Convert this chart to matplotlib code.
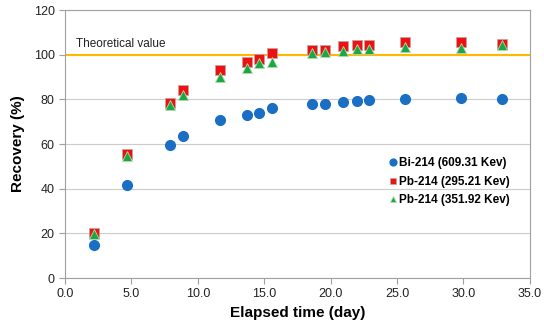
import numpy as np
import matplotlib
matplotlib.use('Agg')
import matplotlib.pyplot as plt

plt.rcParams['font.family'] = ['Liberation Sans', 'DejaVu Sans']

# elapsed time (day)
days = [2.2, 4.7, 7.9, 8.9, 11.7, 13.7, 14.6, 15.6, 18.6, 19.6, 20.9, 22.0, 22.9, 25.6, 29.8, 32.9]

bi214_609 = [14.8, 41.9, 59.8, 63.5, 71.0, 73.1, 74.0, 76.1, 77.8, 78.0, 78.8, 79.3, 79.8, 80.2, 80.8, 80.3]
pb214_295 = [20.1, 55.7, 78.2, 84.2, 93.2, 96.8, 98.0, 101.0, 102.2, 102.2, 104.0, 104.2, 104.2, 105.5, 105.9, 104.7]
pb214_351 = [19.8, 54.8, 77.6, 81.9, 90.2, 94.2, 96.2, 96.9, 101.0, 101.2, 101.7, 102.8, 102.8, 103.5, 103.2, 104.3]

theoretical = 100

fig = plt.figure(figsize=(5.44, 3.26), dpi=100)
ax = fig.add_axes([0.1195, 0.147, 0.8545, 0.822])

ax.axhline(theoretical, color='#ffb800', lw=1.5, zorder=2)
ax.text(0.8, theoretical + 2, 'Theoretical value', fontsize=8.5, color='#222222', va='bottom')

ax.plot(days, bi214_609, 'o', color='#1a6fc4', ms=7, mec='#1a6fc4', ls='none',
        label='Bi-214 (609.31 Kev)', zorder=3)
ax.plot(days, pb214_295, 's', color='#ee1111', ms=6.5, mec='#c8a0a0', mew=0.6, ls='none',
        label='Pb-214 (295.21 Kev)', zorder=4)
ax.plot(days, pb214_351, '^', color='#18a848', ms=7, mec='#b8d8a0', mew=0.6, ls='none',
        label='Pb-214 (351.92 Kev)', zorder=5)

ax.set_xlim(0, 35)
ax.set_ylim(0, 120)
ax.set_xticks(np.arange(0, 35.1, 5))
ax.set_xticklabels(['%.1f' % v for v in np.arange(0, 35.1, 5)])
ax.set_yticks(np.arange(0, 121, 20))
ax.yaxis.grid(True, color='#cccccc', lw=0.8)
ax.set_axisbelow(True)

for s in ax.spines.values():
    s.set_color('#a0a0a0')
    s.set_linewidth(0.8)
ax.tick_params(axis='both', labelsize=9, colors='#222222', length=4, width=0.8)
ax.tick_params(axis='both', color='#a0a0a0')

ax.set_xlabel('Elapsed time (day)', fontsize=11, fontweight='bold', labelpad=4)
ax.set_ylabel('Recovery (%)', fontsize=11, fontweight='bold', labelpad=6)

leg = ax.legend(loc='lower right', bbox_to_anchor=(0.98, 0.228), frameon=False,
                prop={'size': 8.5, 'weight': 'bold'}, handletextpad=0.0,
                handlelength=1.0, labelspacing=0.55, markerscale=0.7)

fig.savefig('out.png', dpi=100)
